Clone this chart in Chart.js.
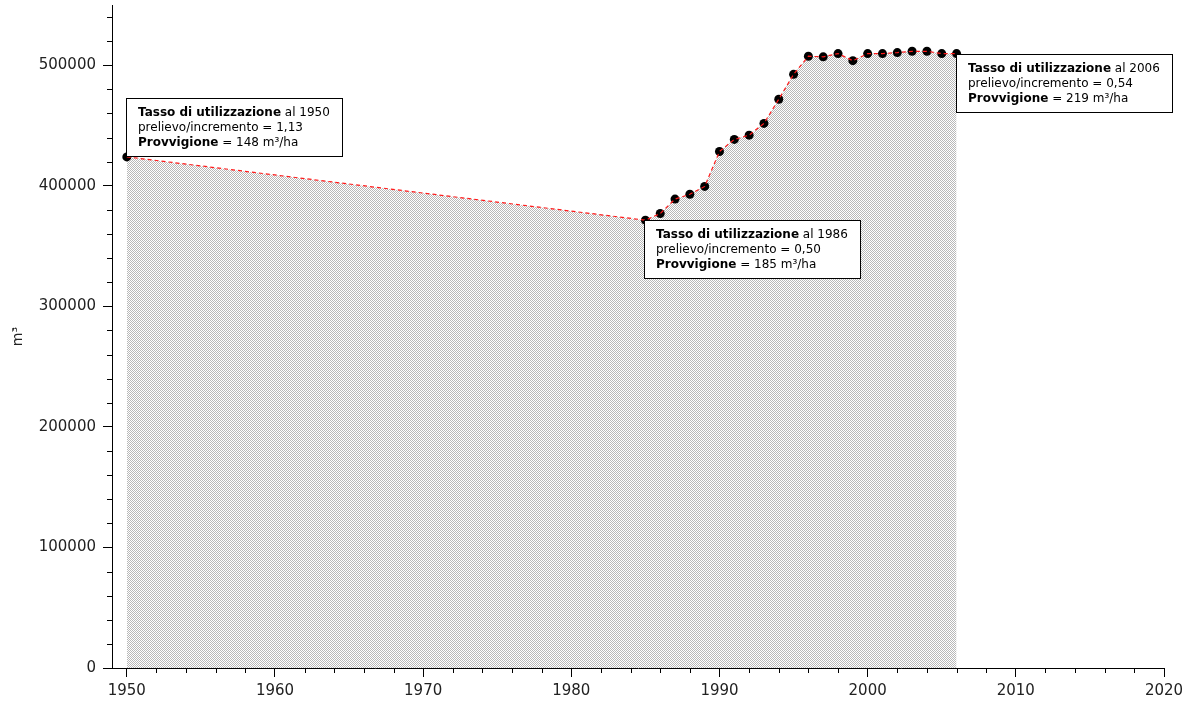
<!DOCTYPE html>
<html lang="it">
<head>
<meta charset="UTF-8">
<title>Provvigione</title>
<style>
  html, body { margin: 0; padding: 0; background: #fff; }
  #wrap { width: 1192px; height: 707px; }
</style>
<script src="https://cdn.jsdelivr.net/npm/chart.js"></script>
</head>
<body>
<div id="wrap"><canvas id="chart" width="1192" height="707"></canvas></div>
<script>
// dati: provvigione totale (m³) per anno
const years = [1950, 1985, 1986, 1987, 1988, 1989, 1990, 1991, 1992, 1993, 1994,
               1995, 1996, 1997, 1998, 1999, 2000, 2001, 2002, 2003, 2004, 2005, 2006];
const volumes = [424000, 371500, 377000, 389000, 393000, 399500, 428500, 438500, 442000, 451800, 471800,
                 492500, 507500, 507000, 509700, 503800, 509700, 509700, 510500, 511600, 511600, 509700, 509700];

// tick
const xTicks = [1950, 1960, 1970, 1980, 1990, 2000, 2010, 2020];
const yTicks = [0, 100000, 200000, 300000, 400000, 500000];

// riquadri di testo
const noteYears = [1950, 1985, 2006];      // punto a cui è agganciato il riquadro
const noteLabelYears = ['1950', '1986', '2006'];
const noteRatios = ['1,13', '0,50', '0,54'];
const noteStock = ['148', '185', '219'];
const notePlace = ['above', 'below', 'below'];

const FONT = "'DejaVu Sans', sans-serif";

// retino grigio per il riempimento
function makePattern() {
  const c = document.createElement('canvas');
  c.width = 2; c.height = 2;
  const g = c.getContext('2d');
  g.fillStyle = '#ffffff';
  g.fillRect(0, 0, 2, 2);
  g.fillStyle = '#b8b8b8';
  g.fillRect(0, 0, 1, 1);
  g.fillRect(1, 1, 1, 1);
  return g.createPattern(c, 'repeat');
}

// tacche secondarie sugli assi
const minorTicks = {
  id: 'minorTicks',
  afterDraw(chart) {
    const ctx = chart.ctx;
    const xs = chart.scales.x, ys = chart.scales.y;
    const area = chart.chartArea;
    ctx.save();
    ctx.strokeStyle = '#000';
    ctx.lineWidth = 1;
    ctx.beginPath();
    for (let v = 1952; v < 2020; v += 2) {
      if (v % 10 === 0) continue;
      const px = Math.round(xs.getPixelForValue(v)) + 0.5;
      ctx.moveTo(px, area.bottom);
      ctx.lineTo(px, area.bottom + 5);
    }
    for (let v = 20000; v <= 540000; v += 20000) {
      if (v % 100000 === 0) continue;
      const py = Math.round(ys.getPixelForValue(v)) + 0.5;
      ctx.moveTo(area.left, py);
      ctx.lineTo(area.left - 5, py);
    }
    ctx.stroke();
    ctx.restore();
  }
};

// riquadri con tasso di utilizzazione
const notes = {
  id: 'notes',
  afterDatasetsDraw(chart) {
    const ctx = chart.ctx;
    const xs = chart.scales.x, ys = chart.scales.y;
    const bold = "bold 12px " + FONT, normal = "12px " + FONT;
    ctx.save();
    noteYears.forEach((yr, i) => {
      const idx = years.indexOf(yr);
      const px = xs.getPixelForValue(yr);
      const py = ys.getPixelForValue(volumes[idx]);
      const lines = [
        [['Tasso di utilizzazione', bold], [' al ' + noteLabelYears[i], normal]],
        [['prelievo/incremento = ' + noteRatios[i], normal]],
        [['Provvigione', bold], [' = ' + noteStock[i] + ' m³/ha', normal]]
      ];
      let w = 0;
      lines.forEach(parts => {
        let lw = 0;
        parts.forEach(p => { ctx.font = p[1]; lw += ctx.measureText(p[0]).width; });
        w = Math.max(w, lw);
      });
      const bw = Math.round(w + 24), bh = 58;
      const left = Math.round(px) - 0.5;
      const top = notePlace[i] === 'above' ? Math.round(py) - bh - 0.5 : Math.round(py) + 0.5;
      ctx.fillStyle = '#fff';
      ctx.fillRect(left, top, bw, bh);
      ctx.strokeStyle = '#000';
      ctx.lineWidth = 1;
      ctx.strokeRect(left, top, bw, bh);
      ctx.fillStyle = '#000';
      ctx.textBaseline = 'middle';
      ctx.textAlign = 'left';
      lines.forEach((parts, li) => {
        let x = left + 11.5;
        const y = top + 14.5 + li * 15;
        parts.forEach(p => {
          ctx.font = p[1];
          ctx.fillText(p[0], x, y);
          x += ctx.measureText(p[0]).width;
        });
      });
    });
    ctx.restore();
  }
};

const pts = years.map((y, i) => ({ x: y, y: volumes[i] }));

new Chart(document.getElementById('chart'), {
  type: 'line',
  data: {
    datasets: [
      {
        label: 'punti',
        data: pts,
        showLine: false,
        pointRadius: 4.5,
        pointBackgroundColor: '#000',
        pointBorderColor: '#000',
        pointBorderWidth: 0,
        order: 2
      },
      {
        label: 'provvigione',
        data: pts,
        borderColor: '#ff1a1a',
        borderWidth: 1.2,
        borderDash: [4, 3],
        pointRadius: 0,
        tension: 0,
        fill: 'origin',
        backgroundColor: makePattern(),
        order: 1
      }
    ]
  },
  options: {
    responsive: false,
    animation: false,
    layout: { padding: { top: 5, right: 28, left: 0, bottom: 0 } },
    plugins: {
      legend: { display: false },
      tooltip: { enabled: false },
      filler: { drawTime: 'beforeDatasetsDraw' }
    },
    scales: {
      x: {
        type: 'linear',
        min: 1949,
        max: 2020,
        afterBuildTicks: s => { s.ticks = xTicks.map(v => ({ value: v })); },
        afterFit: s => { s.height = 39; },
        grid: { drawOnChartArea: false, drawTicks: true, tickLength: 9, tickColor: '#000' },
        border: { display: true, color: '#000', width: 1 },
        ticks: {
          autoSkip: false,
          maxRotation: 0,
          padding: 5,
          color: '#222',
          font: { family: FONT, size: 15 },
          callback: v => String(v)
        }
      },
      y: {
        type: 'linear',
        min: 0,
        max: 550000,
        afterBuildTicks: s => { s.ticks = yTicks.map(v => ({ value: v })); },
        afterFit: s => { s.width = 112; s.paddingTop = 0; s.paddingBottom = 0; },
        grid: { drawOnChartArea: false, drawTicks: true, tickLength: 9, tickColor: '#000' },
        border: { display: true, color: '#000', width: 1 },
        title: {
          display: true,
          text: 'm³',
          color: '#222',
          font: { family: FONT, size: 14 },
          padding: { top: 10, bottom: 0 }
        },
        ticks: {
          padding: 7,
          color: '#222',
          font: { family: FONT, size: 15 },
          callback: v => String(v)
        }
      }
    }
  },
  plugins: [minorTicks, notes]
});
</script>
</body>
</html>
